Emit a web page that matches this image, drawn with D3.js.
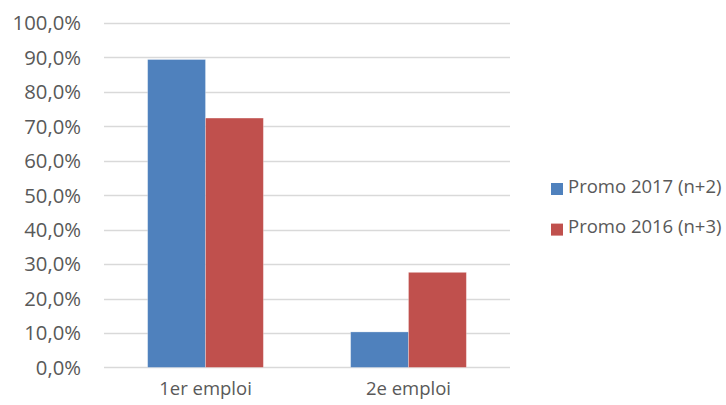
<!DOCTYPE html>
<html><head><meta charset="utf-8">
<script src="https://cdn.jsdelivr.net/npm/d3@7"></script>
<style>body{margin:0;background:#fff}svg{display:block}</style>
</head><body>
<svg id="c" width="726" height="405"></svg>
<script>
const categories = ["1er emploi", "2e emploi"];
const seriesNames = ["Promo 2017 (n+2)", "Promo 2016 (n+3)"];
const promo2017 = [89.4, 10.3];
const promo2016 = [72.4, 27.6];
const yTicks = [0,10,20,30,40,50,60,70,80,90,100];
const colors = ["#4f81bd", "#c0504d"];

const svg = d3.select("#c");
const font = "'Open Sans', sans-serif";
const textColor = "#595959";

const x = d3.scaleBand().domain(categories).range([104, 510]).paddingInner(0.43).paddingOuter(0.215);
const xs = d3.scaleBand().domain(seriesNames).range([0, x.bandwidth()]);
const y = d3.scaleLinear().domain([0, 100]).range([367.4, 23]);

// gridlines
svg.append("g").selectAll("line").data(yTicks).join("line")
  .attr("x1", 104).attr("x2", 510)
  .attr("y1", d => Math.round(y(d)) + 0.5).attr("y2", d => Math.round(y(d)) + 0.5)
  .attr("stroke", "#d9d9d9").attr("stroke-width", 1.3);

// y labels
svg.append("g").selectAll("text").data(yTicks).join("text")
  .attr("x", 81).attr("y", d => y(d)).attr("dy", "0.36em")
  .attr("text-anchor", "end").attr("font-family", font).attr("font-size", 20.3)
  .attr("fill", textColor)
  .text(d => d.toFixed(1).replace(".", ",") + "%");

// bars
const series = [promo2017, promo2016];
series.forEach((vals, si) => {
  svg.append("g").selectAll("rect").data(categories).join("rect")
    .attr("x", c => x(c) + xs(seriesNames[si]))
    .attr("width", xs.bandwidth())
    .attr("y", (c, i) => y(vals[i]))
    .attr("height", (c, i) => y(0) - y(vals[i]))
    .attr("fill", colors[si])
    .attr("stroke", "#ffffff").attr("stroke-opacity", 0.35).attr("stroke-width", 0.8);
});

// x labels
svg.append("g").selectAll("text").data(categories).join("text")
  .attr("x", c => x(c) + x.bandwidth() / 2).attr("y", 395)
  .attr("text-anchor", "middle").attr("font-family", font).attr("font-size", 18.5)
  .attr("fill", textColor).text(d => d);

// legend
const lg = svg.append("g");
seriesNames.forEach((n, i) => {
  const yy = 183 + i * 40.6;
  lg.append("rect").attr("x", 551).attr("y", yy).attr("width", 12).attr("height", 12).attr("fill", colors[i]);
  lg.append("text").attr("x", 568).attr("y", yy + 9.5).attr("font-family", font).attr("font-size", 18.5)
    .attr("fill", textColor).text(n);
});
</script>
</body></html>
